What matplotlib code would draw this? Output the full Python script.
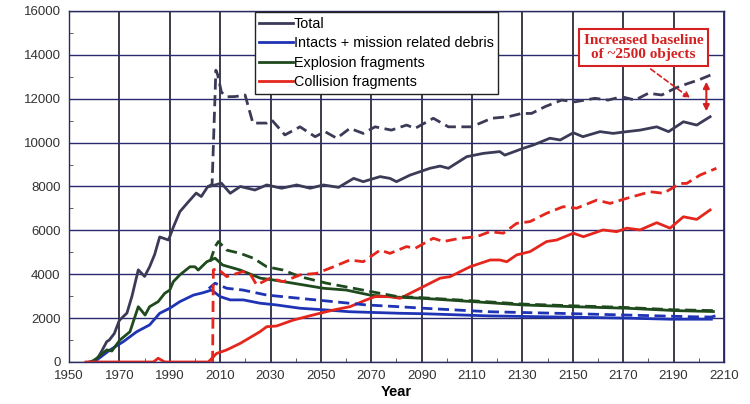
import matplotlib
matplotlib.use('Agg')
import matplotlib.pyplot as plt
from matplotlib.patches import FancyArrowPatch
from matplotlib.ticker import MultipleLocator

plt.rcParams['font.family'] = ['Liberation Sans', 'DejaVu Sans']

# Total
total_yr = [1958, 1961, 1963, 1965, 1966, 1968, 1970, 1973, 1975, 1977.5, 1980, 1982, 1984, 1986,
            1989.5, 1991.5, 1994, 1997, 2000.5, 2002.5, 2005, 2008, 2010.5, 2014, 2018, 2023.8,
            2028.5, 2034.4, 2040.4, 2045.7, 2051, 2057, 2063, 2066.8, 2073.5, 2077.4, 2080, 2085.4,
            2093.3, 2097.3, 2100.6, 2107.9, 2114.5, 2121, 2123, 2130.3, 2134.3, 2140.9, 2145,
            2150.2, 2154, 2160.8, 2166, 2171.4, 2176.7, 2183.3, 2188, 2193.9, 2199.2, 2204.5]
total_val = [0, 100, 500, 930, 1000, 1300, 1900, 2230, 3000, 4200, 3900, 4340, 4900, 5700,
             5560, 6170, 6850, 7250, 7700, 7540, 7980, 8070, 8150, 7690, 8000, 7840,
             8070, 7920, 8070, 7920, 8070, 7960, 8370, 8220, 8450, 8370, 8220, 8520,
             8830, 8930, 8830, 9360, 9510, 9590, 9430, 9740, 9890, 10200, 10120,
             10450, 10270, 10500, 10420, 10500, 10570, 10720, 10500, 10950, 10800, 11180]

total_d_yr = [2005, 2006.8, 2008.3, 2009, 2010.5, 2012.6, 2016, 2019.9, 2023, 2028.5, 2030.5,
              2035.7, 2041.7, 2047.7, 2051.6, 2056.3, 2061.5, 2066.8, 2071.5, 2078, 2084, 2087.4,
              2094.6, 2100.6, 2109.8, 2117.8, 2124.4, 2129.7, 2133.6, 2139, 2145.6, 2150.9,
              2158.8, 2164, 2169.4, 2174.7, 2180, 2185.3, 2190.6, 2195.8, 2199.8, 2206.4]
total_d_val = [7980, 8100, 13300, 13100, 12300, 12090, 12100, 12170, 10890, 10890, 11030,
               10350, 10720, 10270, 10500, 10200, 10650, 10420, 10720, 10570, 10800, 10650,
               11110, 10720, 10720, 11110, 11180, 11330, 11330, 11640, 11940, 11860,
               12020, 11940, 12090, 11940, 12250, 12170, 12480, 12700, 12850, 13160]

# Intacts + mission related debris
int_yr = [1959, 1961, 1966.3, 1971.6, 1976.9, 1982, 1986, 1990, 1994, 1999.4, 2003.3, 2006.6,
          2010, 2014, 2019.2, 2025.8, 2032.4, 2041.7, 2052.3, 2061.5, 2081.4, 2090.6, 2117,
          2145, 2171.4, 2188.6, 2205]
int_val = [0, 90, 550, 930, 1380, 1690, 2220, 2450, 2750, 3050, 3160, 3280,
           2980, 2830, 2830, 2680, 2600, 2450, 2370, 2290, 2220, 2200, 2100,
           2050, 2000, 1950, 1950]

int_d_yr = [2005.5, 2008, 2012.6, 2019, 2028.5, 2041.7, 2055, 2068, 2081, 2090.6, 2117,
            2143.5, 2171.4, 2198, 2205, 2208]
int_d_val = [3350, 3590, 3360, 3280, 3050, 2900, 2750, 2600, 2520, 2450, 2290,
             2220, 2140, 2060, 2050, 2150]

# Explosion fragments
exp_yr = [1959, 1961, 1965, 1967, 1970.2, 1974.2, 1977.5, 1980.2, 1982, 1985.4, 1988, 1990,
          1991.4, 1994, 1998, 2000, 2001.3, 2004.7, 2008, 2011, 2018, 2026, 2031, 2039, 2051,
          2060, 2069.5, 2076, 2090.7, 2110.5, 2130.3, 2150.2, 2171.4, 2191.3, 2205.8]
exp_val = [0, 170, 550, 500, 1000, 1380, 2520, 2140, 2520, 2750, 3130, 3280,
           3660, 3970, 4340, 4340, 4190, 4570, 4730, 4420, 4190, 3820, 3740, 3590, 3360,
           3280, 3050, 2980, 2900, 2750, 2600, 2520, 2450, 2340, 2300]

exp_d_yr = [2006, 2008, 2009.3, 2012.6, 2018, 2023.2, 2028.5, 2035, 2041.7, 2052.3, 2062.9,
            2073.5, 2080, 2090, 2110, 2130, 2150, 2170, 2190, 2207]
exp_d_val = [4570, 5260, 5490, 5100, 4950, 4730, 4340, 4190, 3890, 3590, 3360,
             3130, 2990, 2930, 2790, 2640, 2560, 2490, 2380, 2340]

# Collision fragments
col_yr = [1956.7, 1983.5, 1985.4, 1988, 2005.3, 2008.6, 2012.6, 2018, 2025.8, 2028.5, 2032.4,
          2039, 2044.4, 2049.6, 2055, 2061.5, 2068, 2071.5, 2077.4, 2081.4, 2085.4, 2090.6,
          2097.3, 2101.3, 2109.2, 2117.2, 2121, 2123.8, 2127.7, 2133, 2139.6, 2143.6, 2150.2,
          2154.2, 2162, 2167.4, 2171.4, 2176.7, 2183.3, 2188.6, 2193.9, 2199.2, 2204.5]
col_val = [0, 0, 170, 0, 0, 390, 550, 850, 1380, 1610, 1640,
           1910, 2070, 2220, 2370, 2520, 2830, 2980, 2980, 2900, 3130, 3430,
           3820, 3890, 4340, 4650, 4650, 4570, 4880, 5030, 5490, 5560, 5870,
           5710, 6020, 5940, 6100, 6020, 6350, 6100, 6620, 6500, 6930]

col_d_yr = [2007.0, 2007.3, 2009, 2012.6, 2019, 2022, 2024.5, 2029.8, 2035, 2041.7, 2048.3,
            2055, 2061.5, 2066.8, 2073.5, 2077.4, 2084, 2087.4, 2094.6, 2098.6, 2105.2, 2111.8,
            2117.1, 2122.4, 2127.7, 2133, 2139.6, 2146.2, 2151.5, 2159.5, 2164.8, 2171.4,
            2180.7, 2186, 2192.6, 2195.2, 2200.5, 2207]
col_d_val = [0, 4200, 4250, 3890, 4120, 4000, 3510, 3820, 3660, 3970, 4040,
             4340, 4650, 4570, 5100, 4950, 5260, 5180, 5640, 5490, 5640, 5710,
             5940, 5870, 6320, 6400, 6780, 7080, 7010, 7380, 7230, 7460,
             7760, 7690, 8140, 8140, 8520, 8830]

x_ticks = list(range(1950, 2211, 20))

c_total = '#3b3b58'
c_int = '#1f33b5'
c_exp = '#1e4a1e'
c_col = '#e5261d'
dash = (4, 2)
lw = 2.0

fig = plt.figure(figsize=(7.5, 4.04), dpi=100)
ax = fig.add_axes([0.092, 0.104, 0.8733, 0.8688])

ax.plot(total_yr, total_val, color=c_total, lw=lw, label='Total')
ax.plot(int_yr, int_val, color=c_int, lw=lw, label='Intacts + mission related debris')
ax.plot(exp_yr, exp_val, color=c_exp, lw=lw, label='Explosion fragments')
ax.plot(col_yr, col_val, color=c_col, lw=lw, label='Collision fragments')

ax.plot(total_d_yr, total_d_val, color=c_total, lw=lw, dashes=dash)
ax.plot(int_d_yr, int_d_val, color=c_int, lw=lw, dashes=dash)
ax.plot(exp_d_yr, exp_d_val, color=c_exp, lw=lw, dashes=dash)
ax.plot(col_d_yr, col_d_val, color=c_col, lw=lw, dashes=dash)

ax.set_xlim(1950, 2210)
ax.set_ylim(0, 16000)
ax.set_xticks(x_ticks)
ax.xaxis.set_minor_locator(MultipleLocator(10))
ax.yaxis.set_major_locator(MultipleLocator(2000))
ax.yaxis.set_minor_locator(MultipleLocator(1000))
ax.tick_params(which='both', direction='in', labelsize=9.5, labelcolor='#333333', color='#444444')
ax.tick_params(which='major', length=0, pad=6)
ax.tick_params(which='minor', length=3)
ax.grid(True, axis='x', which='major', color='#2c2c3c', lw=1.3)
ax.grid(True, axis='y', which='major', color='#2a2a70', lw=1.0)
ax.set_axisbelow(True)
for s in ax.spines.values():
    s.set_color('#2a2a60')
    s.set_linewidth(1.0)

ax.set_xlabel('Year', fontsize=10.5, fontweight='bold', labelpad=2)

leg = ax.legend(loc='upper left', bbox_to_anchor=(0.284, 0.996), fontsize=10.4,
                fancybox=False, framealpha=1, edgecolor='#222222',
                handlelength=2.3, handletextpad=0.1, borderpad=0.3, labelspacing=0.38,
                borderaxespad=0)
leg.get_frame().set_linewidth(1.0)

ax.text(2178, 14330, 'Increased baseline\nof ~2500 objects', fontsize=11,
        fontweight='bold', family='Liberation Serif', color='#d42020',
        ha='center', va='center', linespacing=1.15,
        bbox=dict(boxstyle='square,pad=0.3', fc='white', ec='#d42020', lw=1.5))
ax.annotate('', xy=(2197.5, 11950), xytext=(2180, 13430),
            arrowprops=dict(arrowstyle='-|>', color='#d42020', lw=1.2, ls=(0, (3, 2)),
                            mutation_scale=9))
ax.add_patch(FancyArrowPatch((2203, 11300), (2203, 12900), arrowstyle='<|-|>',
                             color='#d42020', lw=1.5, mutation_scale=9))

fig.savefig('out.png', dpi=100)
